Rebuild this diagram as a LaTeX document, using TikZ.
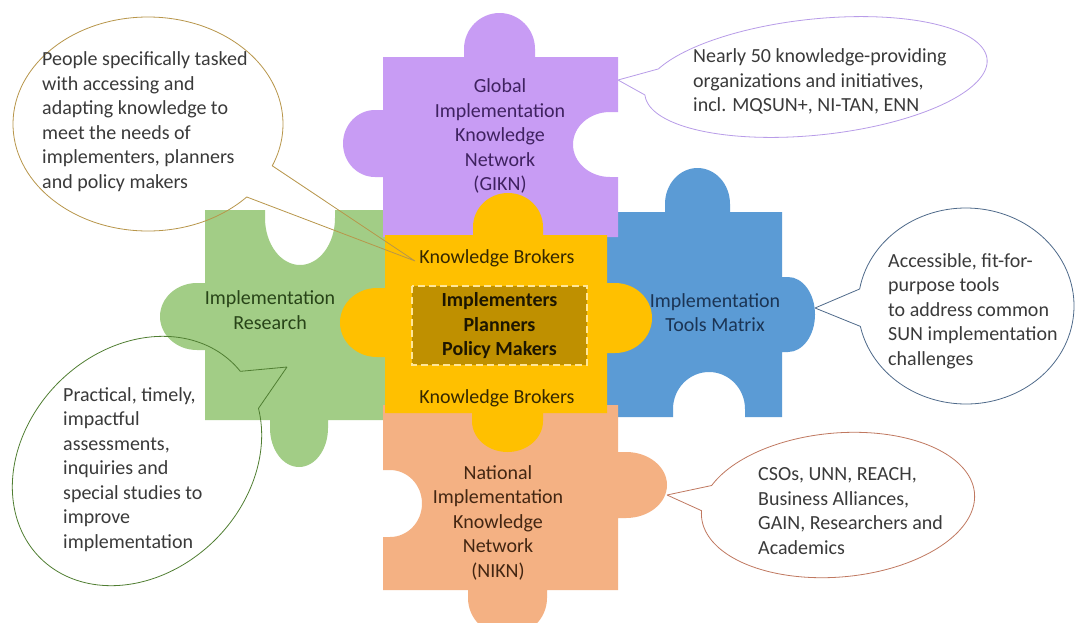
\documentclass[tikz,border=0pt]{standalone}
\usepackage{fontspec}
\setmainfont{Carlito}
\definecolor{cPurple}{HTML}{C89CF4}
\definecolor{cBlue}{HTML}{5B9BD5}
\definecolor{cYellow}{HTML}{FFC000}
\definecolor{cGreen}{HTML}{A2CD86}
\definecolor{cSalmon}{HTML}{F4B183}
\definecolor{cGold}{HTML}{BF9000}
\definecolor{cDash}{HTML}{FFE699}
\definecolor{cText}{HTML}{3A3A3A}
\definecolor{tPurple}{HTML}{3F2260}
\definecolor{tGreen}{HTML}{284418}
\definecolor{tBlue}{HTML}{1B3454}
\definecolor{tSalmon}{HTML}{432612}
\definecolor{tYellow}{HTML}{352800}
\definecolor{oGold}{HTML}{B8964A}
\definecolor{oPurple}{HTML}{B89CE8}
\definecolor{oBlue}{HTML}{4F6A8A}
\definecolor{oGreen}{HTML}{507E32}
\definecolor{oSalmon}{HTML}{C07860}
\begin{document}
\begin{tikzpicture}[x=1pt,y=-1pt,
  font=\fontsize{20}{24.5}\selectfont,
  lbl/.style={align=center, inner sep=0pt},
  ctext/.style={align=left, anchor=west, inner sep=0pt, text=cText},
  callout/.style={line width=0.8pt, line join=round}]
\useasboundingbox (0,0) rectangle (1076,622);
\clip (0,0) rectangle (1076,622);
\fill[white] (0,0) rectangle (1076,622);

% blue piece
\fill[cBlue] (607,212) -- (665,212) -- (665,204) arc[start angle=180,end angle=360,x radius=32.5,y radius=36] -- (730,212) -- (782,212) -- (782,277) -- (788,277) arc[start angle=270,end angle=450,x radius=27,y radius=37.5] -- (782,352) -- (782,417) -- (745,417) -- (745,409) arc[start angle=0,end angle=-180,x radius=36,y radius=37] -- (673,417) -- (607,417) -- cycle;
% green piece
\fill[cGreen] (205,210) -- (265,210) -- (265,218) arc[start angle=180,end angle=0,x radius=35,y radius=47] -- (335,210) -- (385,210) -- (385,420) -- (328,420) -- (328,428) arc[start angle=0,end angle=180,x radius=29,y radius=39] -- (270,420) -- (205,420) -- (205,350) -- (197,350) arc[start angle=90,end angle=270,x radius=37,y radius=33.5] -- (205,283) -- cycle;
% purple piece
\fill[cPurple] (383,57) -- (464,57) -- (464,49) arc[start angle=180,end angle=360,x radius=35.5,y radius=36] -- (535,57) -- (618,57) -- (618,112) -- (610,112) arc[start angle=270,end angle=90,x radius=37,y radius=32.5] -- (618,177) -- (618,237) -- (383,237) -- (383,177) -- (375,177) arc[start angle=90,end angle=270,x radius=32,y radius=33.5] -- (383,110) -- cycle;
% salmon piece
\fill[cSalmon] (383,405) -- (618,405) -- (618,452) -- (626,452) arc[start angle=270,end angle=450,x radius=41,y radius=33] -- (618,518) -- (618,590) -- (547,590) -- (547,598) arc[start angle=0,end angle=180,x radius=39.5,y radius=38] -- (468,590) -- (383,590) -- (383,537) -- (390,537) arc[start angle=90,end angle=-90,x radius=32,y radius=33.5] -- (390,470) -- (383,470) -- cycle;
% yellow piece
\fill[cYellow] (385,235) -- (473,235) -- (473,227) arc[start angle=180,end angle=360,x radius=35,y radius=34] -- (543,235) -- (607,235) -- (607,283) -- (615,283) arc[start angle=270,end angle=450,x radius=37,y radius=35] -- (607,353) -- (607,413) -- (543,413) -- (543,421) arc[start angle=0,end angle=180,x radius=35.5,y radius=31] -- (472,413) -- (385,413) -- (385,357) -- (377,357) arc[start angle=90,end angle=270,x radius=37,y radius=34.5] -- (385,288) -- cycle;
% centre box
\draw[fill=cGold, draw=cDash, line width=2pt, dash pattern=on 7pt off 4pt] (412,286) rectangle (587,365);

% piece labels
\node[lbl, text=tPurple] (gikn) at (500,136) {Global\\Implementation\\Knowledge\\Network\\(GIKN)};
\node[lbl, text=tGreen] (ir) at (270,310) {Implementation\\Research};
\node[lbl, text=tBlue] (itm) at (715,312.5) {Implementation\\Tools Matrix};
\node[lbl, text=tSalmon] (nikn) at (498,522.5) {National\\Implementation\\Knowledge\\Network\\(NIKN)};
\node[lbl, text=tYellow] (kb1) at (497,258) {Knowledge Brokers};
\node[lbl, text=tYellow] (kb2) at (497,398) {Knowledge Brokers};
\node[lbl, text=black!85!cGold, font=\fontsize{20}{24.5}\selectfont\bfseries] (ipp) at (499.5,326) {Implementers\\Planners\\Policy Makers};

% callout tips
\coordinate (t1) at (415,261);
\coordinate (t2) at (618,80);
\coordinate (t3) at (815,308);
\coordinate (t4) at (287,367);
\coordinate (t5) at (667,495);

% callout 1
\begin{scope}[shift={(148,124)}]
\draw[callout, oGold] (t1) -- (43:135 and 107) arc[start angle=43,end angle=383,x radius=135,y radius=107] -- (t1);
\end{scope}
% callout 2 (tilted ellipse)
\draw[callout, oPurple] (t2) -- plot[domain=205:540, samples=160, smooth, variable=\t] ({816+171.05*cos(\t)+6.06*sin(\t)},{77-17.97*cos(\t)+57.68*sin(\t)}) -- (t2);
% callout 3
\begin{scope}[shift={(966,306)}]
\draw[callout, oBlue] (t3) -- (190:108 and 98) arc[start angle=190,end angle=528,x radius=108,y radius=98] -- (t3);
\end{scope}
% callout 4 (tilted ellipse)
\draw[callout, oGreen] (t4) -- plot[domain=26:365, samples=160, smooth, variable=\t] ({137+0.7071*(137*cos(\t)+111*sin(\t))},{461+0.7071*(-137*cos(\t)+111*sin(\t))}) -- (t4);
% callout 5 (tilted ellipse)
\draw[callout, oSalmon] (t5) -- plot[domain=205:545, samples=160, smooth, variable=\t] ({838+136.48*cos(\t)+6.28*sin(\t)},{505-11.94*cos(\t)+71.73*sin(\t)}) -- (t5);

% callout texts
\node[ctext] (c1) at (42,121.5) {People specifically tasked\\with accessing and\\adapting knowledge to\\meet the needs of\\implementers, planners\\and policy makers};
\node[ctext] (c2) at (693,81.5) {Nearly 50 knowledge-providing\\organizations and initiatives,\\incl. MQSUN+, NI-TAN, ENN};
\node[ctext] (c3) at (888,311) {Accessible, fit-for-\\purpose tools\\to address common\\SUN implementation\\challenges};
\node[ctext] (c4) at (63,469.5) {Practical, timely,\\impactful\\assessments,\\inquiries and\\special studies to\\improve\\implementation};
\node[ctext] (c5) at (758,511) {CSOs, UNN, REACH,\\Business Alliances,\\GAIN, Researchers and\\Academics};
\end{tikzpicture}
\end{document}
